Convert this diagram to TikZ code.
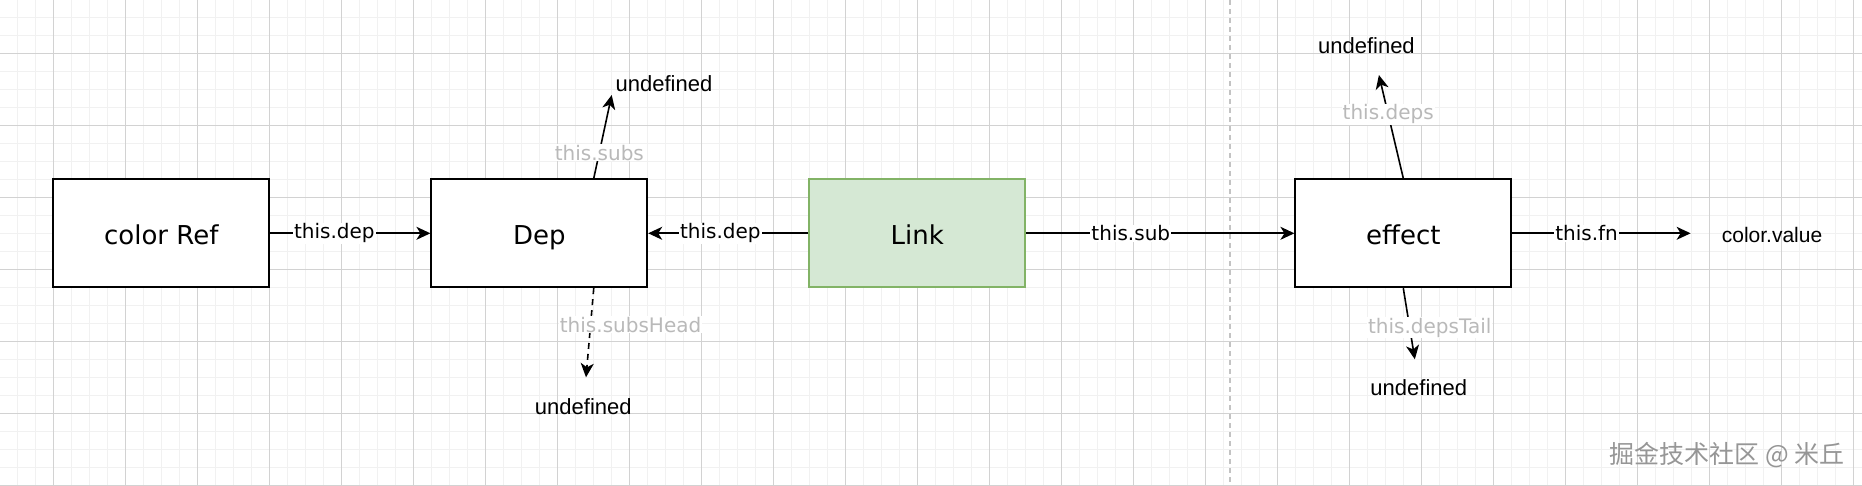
\documentclass[tikz,border=0pt]{standalone}
\usepackage{fontspec}
\setmainfont{DejaVu Sans}
\newfontfamily\helv{Liberation Sans}
\newfontfamily\cjk{Noto Sans CJK SC}
\usetikzlibrary{arrows.meta,calc}
\definecolor{gridmin}{RGB}{241,241,241}
\definecolor{gridmaj}{RGB}{210,210,210}
\definecolor{linkfill}{HTML}{D5E8D4}
\definecolor{linkdraw}{HTML}{82B366}
\definecolor{lbl}{RGB}{185,185,185}
\definecolor{sepcol}{RGB}{195,195,195}
\definecolor{wmcol}{RGB}{150,150,150}
\begin{document}
\begin{tikzpicture}[x=1pt,y=-1pt,
  box/.style={draw=black,line width=1.8pt,fill=white,minimum width=216pt,minimum height=108pt,inner sep=0pt,font=\fontsize{26}{30}\selectfont},
  boxtext/.style={text height=19pt,text depth=0pt,inner sep=0pt,font=\fontsize{26}{30}\selectfont},
  linkbox/.style={box,draw=linkdraw,fill=linkfill},
  arr/.style={draw=black,line width=1.6pt,-{Stealth[length=14pt,width=13pt,inset=4pt]}},
  dashedarr/.style={arr,dash pattern=on 6pt off 5pt},
  elbl/.style={fill=white,inner sep=1pt,text=black,font=\fontsize{20}{24}\selectfont},
  glbl/.style={fill=white,inner sep=1pt,text=lbl,font=\fontsize{20}{24}\selectfont},
  plain/.style={inner sep=0pt,text=black,font=\helv\fontsize{22}{26}\selectfont},
  minorgrid/.style={draw=gridmin,line width=1pt},
  majorgrid/.style={draw=gridmaj,line width=1.2pt}
]
\useasboundingbox (0,0) rectangle (1862,486);
\fill[white] (0,0) rectangle (1862,486);
% grid
\foreach \i in {0,...,102} \draw[minorgrid] ({17.3+18*\i},0) -- ({17.3+18*\i},486);
\foreach \j in {0,...,26} \draw[minorgrid] (0,{17.3+18*\j}) -- (1862,{17.3+18*\j});
\foreach \i in {0,...,25} \draw[majorgrid] ({53.3+72*\i},0) -- ({53.3+72*\i},486);
\foreach \j in {0,...,6} \draw[majorgrid] (0,{53.3+72*\j}) -- (1862,{53.3+72*\j});
% separator
\draw[sepcol,line width=1.3pt,dash pattern=on 5pt off 4pt] (1230,0) -- (1230,486);

% boxes
\node[box] (ref) at (161.3,233.3) {};
\node[box] (dep) at (539.3,233.3) {};
\node[linkbox] (link) at (917.3,233.3) {};
\node[box] (eff) at (1403.3,233.3) {};
\node[boxtext] (refT) at ([yshift=-2pt]ref.center) {color Ref};
\node[boxtext] (depT) at ([yshift=-2pt]dep.center) {Dep};
\node[boxtext] (linkT) at ([yshift=-2pt]link.center) {Link};
\node[boxtext] (effT) at ([yshift=-2pt]eff.center) {effect};

% texts
\node[plain] (u1) at (664,83.3) {undefined};
\node[plain] (u2) at (583.3,406.7) {undefined};
\node[plain] (u3) at (1366.4,45.7) {undefined};
\node[plain] (u4) at (1418.8,387.7) {undefined};
\node[plain,font=\helv\fontsize{21}{25}\selectfont] (cv) at (1772,235) {color.value};

\coordinate (t1) at (611.7,95);
\coordinate (t2) at (586,377.3);
\coordinate (t3) at (1378.9,75);
\coordinate (t4) at (1414.8,359.3);
\coordinate (t5) at (1690.6,233.3);

% connectors
\draw[arr] (ref.east) -- node[elbl,pos=0.4] {this.dep} (dep.west);
\draw[arr] (link.west) -- node[elbl,pos=0.55] {this.dep} (dep.east);
\draw[arr] (link.east) -- node[elbl,pos=0.39] {this.sub} (eff.west);
\draw[arr] (eff.east) -- node[elbl,pos=0.417] {this.fn} (t5);

\draw[arr] ($(dep.north west)!0.75!(dep.north east)$) -- node[glbl,pos=0.31] {this.subs} (t1);
\draw[dashedarr] ($(dep.south west)!0.75!(dep.south east)$) -- node[glbl,pos=0.41,xshift=40pt] {this.subsHead} (t2);
\draw[arr] (eff.north) -- node[glbl,pos=0.62] {this.deps} (t3);
\draw[arr] (eff.south) -- node[glbl,pos=0.557,xshift=20pt] {this.depsTail} (t4);

% watermark
\node[text=wmcol,inner sep=0pt,font=\cjk\fontsize{25}{29}\selectfont] (wm) at (1727,455) {掘金技术社区 @ 米丘};
\end{tikzpicture}
\end{document}
